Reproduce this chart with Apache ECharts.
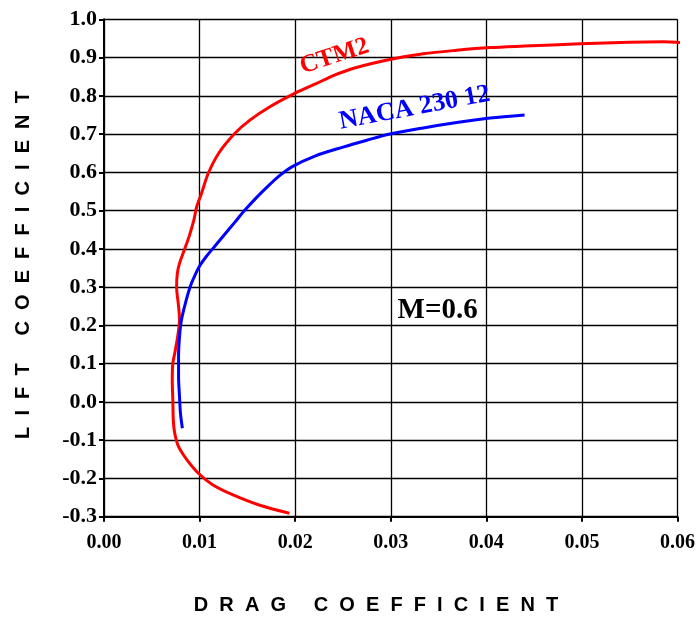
<!DOCTYPE html>
<html>
<head>
<meta charset="utf-8">
<script src="https://cdn.jsdelivr.net/npm/echarts@6/dist/echarts.min.js"></script>
<style>
  html, body { margin: 0; padding: 0; background: #fff; }
  #chart { width: 698px; height: 618px; }
</style>
</head>
<body>
<div id="chart"></div>
<script>
// Drag polar at M = 0.6: drag coefficient (x) against lift coefficient (y)
const ctm2Drag = [0.0194, 0.0163, 0.0135, 0.0114, 0.0099, 0.0087, 0.0078, 0.0074, 0.00725, 0.0072,
  0.00714, 0.0072, 0.0074, 0.0077, 0.0079, 0.0078, 0.0076, 0.00767, 0.0079, 0.0084, 0.0089,
  0.0094, 0.0097, 0.0102, 0.0109, 0.0120, 0.0137, 0.0153, 0.0174, 0.0200, 0.0222, 0.0240,
  0.0264, 0.0299, 0.0334, 0.0369, 0.0404, 0.0440, 0.0498, 0.0550, 0.0585, 0.0599, 0.0621];
const ctm2Lift = [-0.291, -0.270, -0.243, -0.217, -0.187, -0.152, -0.117, -0.082, -0.047, 0.005,
  0.057, 0.101, 0.127, 0.170, 0.214, 0.250, 0.300, 0.336, 0.362, 0.397, 0.432,
  0.475, 0.510, 0.545, 0.597, 0.650, 0.702, 0.737, 0.772, 0.807, 0.832, 0.853,
  0.874, 0.895, 0.910, 0.919, 0.926, 0.930, 0.936, 0.940, 0.941, 0.940, 0.934];

const nacaDrag = [0.0082, 0.0080, 0.0079, 0.0078, 0.0078, 0.0079, 0.0081, 0.0086, 0.0090, 0.0095,
  0.0100, 0.0107, 0.0117, 0.0127, 0.0137, 0.0147, 0.0158, 0.0170, 0.0183, 0.0197, 0.0220,
  0.0250, 0.0275, 0.0299, 0.0334, 0.0369, 0.0404, 0.0440];
const nacaLift = [-0.069, -0.030, 0.014, 0.066, 0.118, 0.170, 0.214, 0.266, 0.300, 0.330,
  0.355, 0.380, 0.410, 0.440, 0.470, 0.500, 0.530, 0.560, 0.590, 0.615, 0.642,
  0.666, 0.684, 0.700, 0.716, 0.730, 0.742, 0.750];

const xTicks = [0.00, 0.01, 0.02, 0.03, 0.04, 0.05, 0.06];
const yTicks = [-0.3, -0.2, -0.1, 0.0, 0.1, 0.2, 0.3, 0.4, 0.5, 0.6, 0.7, 0.8, 0.9, 1.0];

const SERIF = '"Liberation Serif", "Times New Roman", serif';
const SANS = '"Liberation Sans", Arial, sans-serif';

function zip(xs, ys) { return xs.map((x, i) => [x, ys[i]]); }
function spaced(word) { return word.split('').join('  '); }

const chart = echarts.init(document.getElementById('chart'), null, { renderer: 'canvas' });

const gridLine = { color: '#000', width: 1.3 };
const axisLine = { color: '#000', width: 2 };

chart.setOption({
  animation: false,
  backgroundColor: '#fff',
  grid: { left: 104, top: 19.3, right: 20.5, bottom: 101.3, containLabel: false },
  xAxis: {
    type: 'value',
    min: xTicks[0], max: xTicks[xTicks.length - 1], interval: 0.01,
    axisLine: { show: true, onZero: false, lineStyle: axisLine },
    axisTick: { show: true, inside: false, length: 5, lineStyle: axisLine },
    splitLine: { show: true, lineStyle: gridLine },
    axisLabel: {
      margin: 16, formatter: v => v.toFixed(2),
      color: '#000', fontFamily: SERIF, fontWeight: 'bold', fontSize: 20
    }
  },
  yAxis: {
    type: 'value',
    min: yTicks[0], max: yTicks[yTicks.length - 1], interval: 0.1,
    axisLine: { show: true, onZero: false, lineStyle: axisLine },
    axisTick: { show: true, inside: false, length: 5, lineStyle: axisLine },
    splitLine: { show: true, lineStyle: gridLine },
    axisLabel: {
      margin: 7, formatter: v => v.toFixed(1),
      color: '#000', fontFamily: SERIF, fontWeight: 'bold', fontSize: 22
    }
  },
  series: [
    {
      name: 'CTM2', type: 'line', data: zip(ctm2Drag, ctm2Lift),
      showSymbol: false, smooth: 0.3, clip: false,
      lineStyle: { color: '#ff0000', width: 3 }
    },
    {
      name: 'NACA 230 12', type: 'line', data: zip(nacaDrag, nacaLift),
      showSymbol: false, smooth: 0.3, clip: false,
      lineStyle: { color: '#0000ff', width: 3 }
    }
  ]
});

// Curve names, Mach number note and axis titles
const ctmAt = chart.convertToPixel({ gridIndex: 0 }, [0.0241, 0.903]);
const nacaAt = chart.convertToPixel({ gridIndex: 0 }, [0.0325, 0.768]);
const machAt = chart.convertToPixel({ gridIndex: 0 }, [0.0349, 0.240]);

chart.setOption({
  graphic: [
    {
      type: 'text', x: ctmAt[0], y: ctmAt[1], rotation: 18 * Math.PI / 180,
      style: { text: 'CTM2', fill: '#ff0000', font: 'bold 25px ' + SERIF, align: 'center', verticalAlign: 'middle' }
    },
    {
      type: 'text', x: nacaAt[0], y: nacaAt[1], rotation: 10.6 * Math.PI / 180,
      style: { text: 'NACA 230 12', fill: '#0000ff', font: 'bold 26px ' + SERIF, align: 'center', verticalAlign: 'middle' }
    },
    {
      type: 'text', x: machAt[0], y: machAt[1],
      style: { text: 'M=0.6', fill: '#000', font: 'bold 29px ' + SERIF, align: 'center', verticalAlign: 'middle' }
    },
    {
      type: 'text', x: 376, y: 605,
      style: { text: spaced('DRAG') + '     ' + spaced('COEFFICIENT'), fill: '#000', font: 'bold 20px ' + SANS, align: 'center', verticalAlign: 'middle' }
    },
    {
      type: 'text', x: 23, y: 265, rotation: Math.PI / 2,
      style: { text: spaced('LIFT') + '     ' + spaced('COEFFICIENT'), fill: '#000', font: 'bold 20px ' + SANS, align: 'center', verticalAlign: 'middle' }
    }
  ]
});
</script>
</body>
</html>
